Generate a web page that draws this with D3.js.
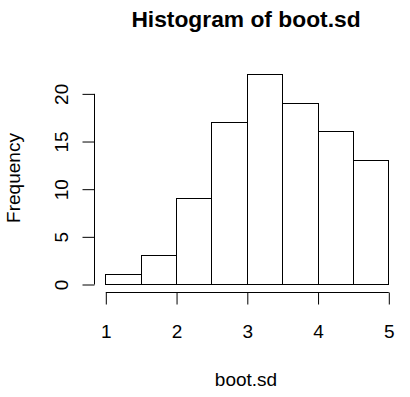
<!DOCTYPE html>
<html>
<head>
<meta charset="utf-8">
<script src="https://cdn.jsdelivr.net/npm/d3@7"></script>
<style>
  body { margin: 0; background: #fff; }
  text { font-family: "Liberation Sans", Arial, sans-serif; fill: #000; }
</style>
</head>
<body>
<div id="Area"></div>
<script>
// histogram bins (break points) and counts
let binStarts = [1, 1.5, 2, 2.5, 3, 3.5, 4, 4.5];
let binEnds = [1.5, 2, 2.5, 3, 3.5, 4, 4.5, 5];
let counts = [1, 3, 9, 17, 22, 19, 16, 13];
let xTicks = [1, 2, 3, 4, 5];
let yTicks = [0, 5, 10, 15, 20];

drawHist();

function drawHist() {
    var width = 410, height = 397;

    var svg = d3.select("#Area")
        .append("svg")
        .attr("width", width)
        .attr("height", height);

    // scales, R style: plot region padded 4% round the data range
    var x = d3.scaleLinear().domain([1, 5]).range([105.3, 388.3]);
    var y = d3.scaleLinear().domain([0, 22]).range([284, 74.3]);

    // bars
    svg.append("g")
        .selectAll("rect")
        .data(counts)
        .enter()
        .append("rect")
        .attr("x", (d, i) => Math.round(x(binStarts[i])) + 0.5)
        .attr("y", d => Math.round(y(d)) + 0.5)
        .attr("width", (d, i) => Math.round(x(binEnds[i])) - Math.round(x(binStarts[i])))
        .attr("height", d => Math.round(y(0)) - Math.round(y(d)))
        .attr("fill", "white")
        .attr("stroke", "black")
        .attr("stroke-width", 1);

    // x axis
    var xAxis = d3.axisBottom(x).tickValues(xTicks).tickSize(12).tickPadding(20)
        .tickFormat(d3.format("d"));
    svg.append("g")
        .attr("transform", "translate(0.5,292.5)")
        .call(xAxis)
        .call(g => g.selectAll("text").attr("font-size", 19).attr("font-family", "Liberation Sans"))
        .call(g => g.select(".domain").attr("d", "M" + x(1) + ",0H" + x(5)));

    // y axis
    var yAxis = d3.axisLeft(y).tickValues(yTicks).tickSize(12).tickFormat(d3.format("d"));
    var gy = svg.append("g")
        .attr("transform", "translate(94.5,0.5)")
        .call(yAxis);
    gy.select(".domain").attr("d", "M0," + y(0) + "V" + y(20));
    gy.selectAll(".tick text")
        .attr("font-size", 19)
        .attr("font-family", "Liberation Sans")
        .attr("x", 0).attr("dy", null)
        .attr("text-anchor", "middle")
        .attr("transform", "translate(-27,0) rotate(-90)");

    // title and labels
    svg.append("text")
        .attr("x", 246).attr("y", 27)
        .attr("text-anchor", "middle")
        .attr("font-size", 22.8)
        .attr("font-weight", "bold")
        .text("Histogram of boot.sd");

    svg.append("text")
        .attr("x", 246).attr("y", 386)
        .attr("text-anchor", "middle")
        .attr("font-size", 19)
        .text("boot.sd");

    svg.append("text")
        .attr("transform", "translate(20,178) rotate(-90)")
        .attr("text-anchor", "middle")
        .attr("font-size", 19)
        .text("Frequency");
}
</script>
</body>
</html>
